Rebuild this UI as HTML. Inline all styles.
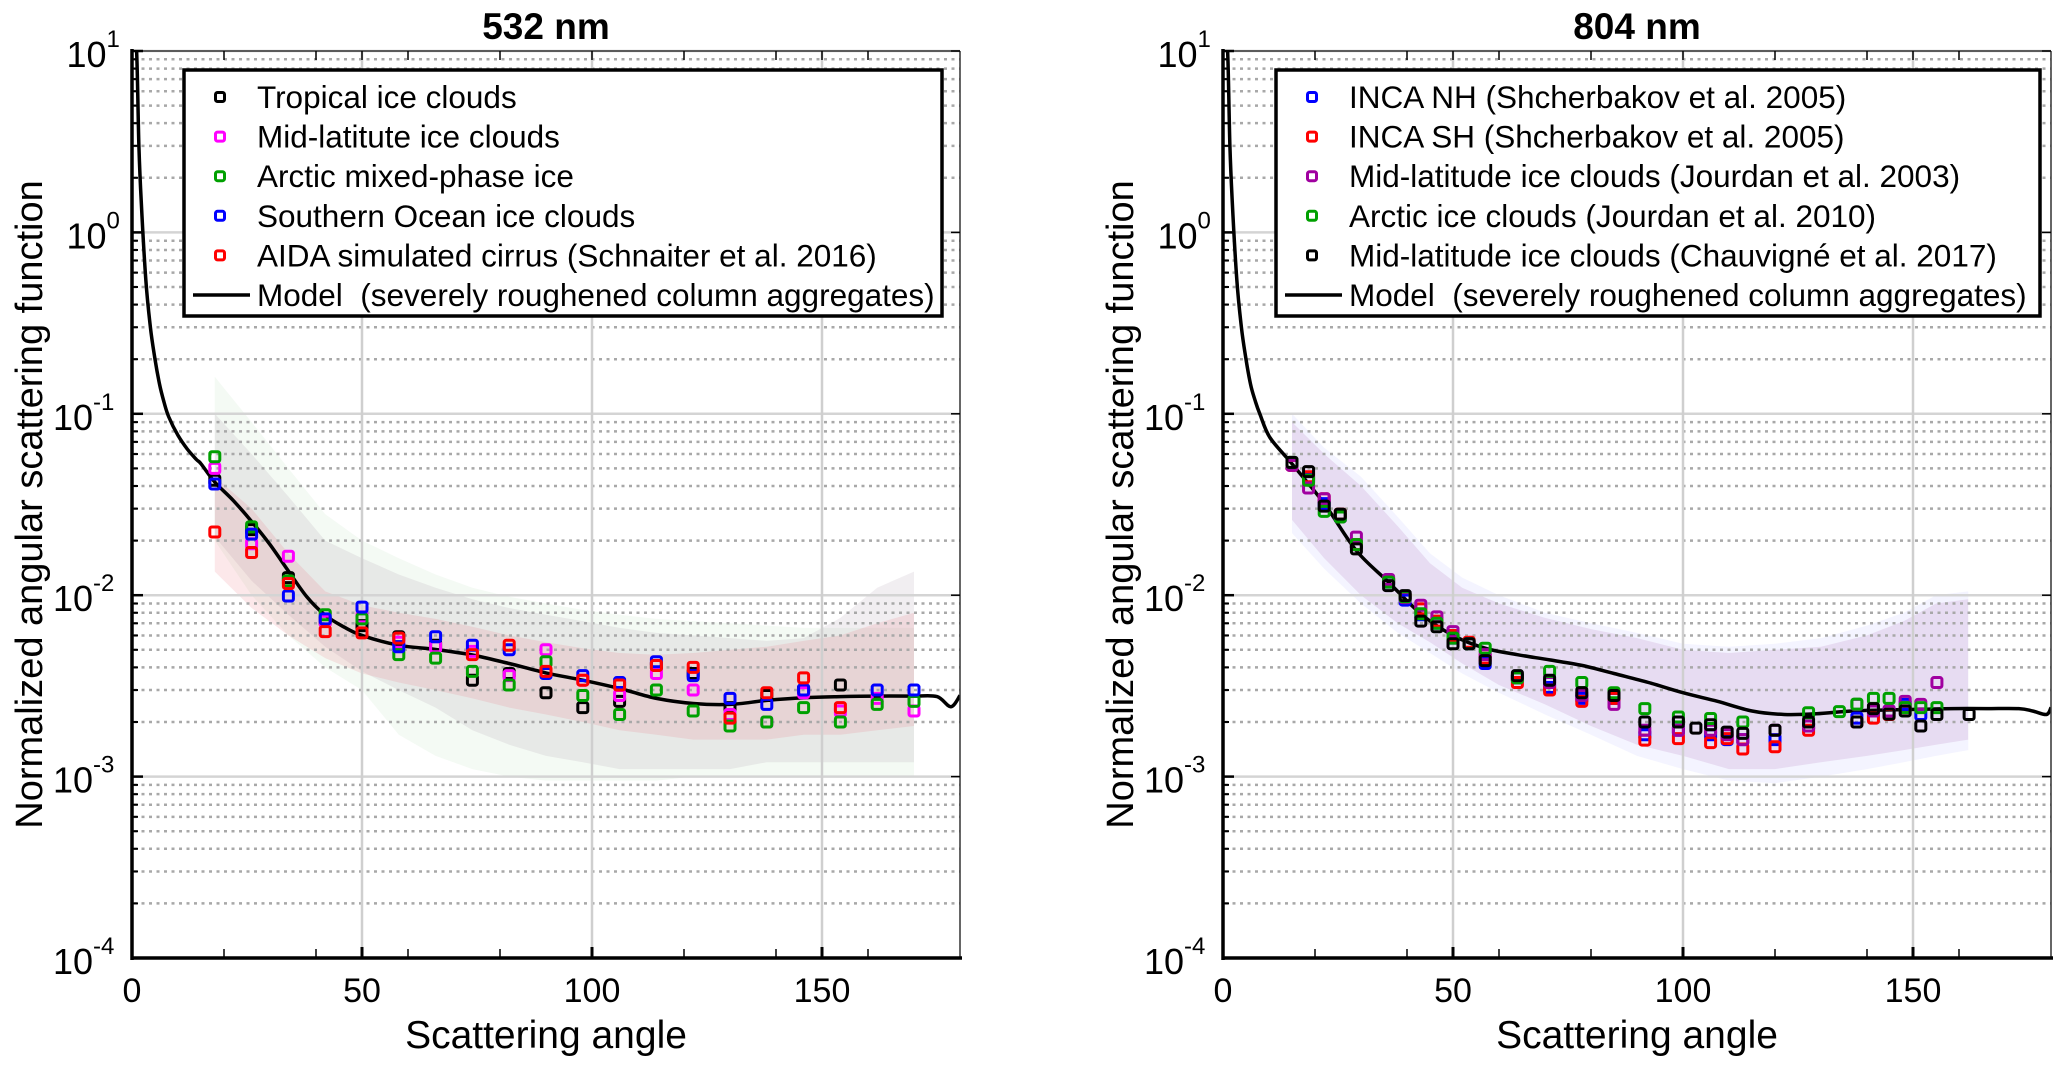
<!DOCTYPE html>
<html><head><meta charset="utf-8"><style>
html,body{margin:0;padding:0;background:#fff;}
svg{display:block;font-family:"Liberation Sans",Arial,sans-serif;}
</style></head><body>
<svg id="chart" width="2066" height="1068" viewBox="0 0 2066 1068" xmlns="http://www.w3.org/2000/svg"></svg>
<script>
// ---------- data ----------
const L_ANGLES = [18,26,34,42,50,58,66,74,82,90,98,106,114,122,130,138,146,154,162,170];
const L_TROPICAL = [0.043,0.023,0.0125,0.0072,0.0068,0.0059,0.0053,0.0034,0.0037,0.0029,0.0024,0.0026,0.0041,0.0037,0.0024,0.0028,0.003,0.0032,null,null];
const L_MIDLAT = [0.050,0.0192,0.0164,0.0072,0.0076,0.0055,0.0052,0.0049,0.0036,0.0050,0.0034,0.0028,0.0037,0.0030,0.0022,0.0020,0.0029,0.0023,0.0027,0.0023];
const L_ARCTIC = [0.058,0.0238,0.012,0.0078,0.0074,0.0047,0.0045,0.0038,0.0032,0.0043,0.0028,0.0022,0.0030,0.0023,0.0019,0.0020,0.0024,0.0020,0.0025,0.0026];
const L_SOUTHERN = [0.041,0.0217,0.0099,0.0074,0.0086,0.0052,0.0059,0.0053,0.0050,0.0037,0.0036,0.0033,0.0043,0.0036,0.0027,0.0025,0.0030,null,0.0030,0.0030];
const L_AIDA = [0.0223,0.0172,0.0116,0.0063,0.0062,0.0058,null,0.0047,0.0053,0.0038,0.0034,0.0032,0.0041,0.0040,0.0021,0.0029,0.0035,0.0024,null,null];

const L_BAND_ANG = [18,26,34,42,50,58,66,74,82,90,98,106,114,122,130,138,146,154,162,170];
const L_GREY_HI = [0.10,0.06,0.035,0.02,0.016,0.013,0.011,0.0095,0.0085,0.0078,0.0072,0.0066,0.0062,0.006,0.0058,0.0056,0.0058,0.0075,0.011,0.0135];
const L_GREY_LO = [0.021,0.012,0.0078,0.0052,0.0038,0.003,0.0024,0.0018,0.0015,0.0013,0.0012,0.0011,0.0011,0.0011,0.0011,0.0012,0.0012,0.0012,0.0012,0.0012];
const L_RED_HI = [0.045,0.03,0.017,0.0105,0.0088,0.008,0.0074,0.0067,0.006,0.0055,0.0051,0.0048,0.0047,0.0048,0.005,0.0052,0.0056,0.006,0.007,0.008];
const L_RED_LO = [0.0135,0.0085,0.006,0.0045,0.0037,0.0033,0.003,0.0027,0.0024,0.0022,0.002,0.0018,0.0017,0.0016,0.0016,0.0016,0.0017,0.0017,0.0018,0.0019];
const L_GREEN_HI = [0.16,0.09,0.05,0.028,0.02,0.016,0.013,0.011,0.0098,0.009,0.0083,0.0078,0.0074,0.0072,0.007,0.0068,0.0066,0.0066,0.0066,0.0066];
const L_GREEN_LO = [0.02,0.01,0.006,0.004,0.003,0.0017,0.0013,0.0011,0.001,0.00095,0.00095,0.00095,0.00095,0.001,0.001,0.001,0.001,0.001,0.001,0.001];

const L_MODEL_ANG = [0.3,1,1.5,2,3,4,5,6,7,8,10,12,14,15,18,22,26,30,34,38,42,46,50,58,66,74,82,90,98,106,114,122,130,138,146,154,162,170,175,178,180];
const L_MODEL_VAL = [12,10,3,1.5,0.55,0.3,0.2,0.145,0.115,0.096,0.076,0.064,0.056,0.053,0.042,0.0333,0.0255,0.019,0.0136,0.0098,0.00776,0.0067,0.006,0.0053,0.00502,0.00468,0.0042,0.00373,0.0034,0.00306,0.0027,0.00253,0.0025,0.00263,0.00272,0.00276,0.00278,0.00278,0.00276,0.00243,0.0028];

const R_ANGLES = [15,18.6,22,25.5,29,36,39.6,43,46.5,50,53.5,57,64,71,78,85,91.7,99,102.8,106,109.6,113,120,127.3,134,137.8,141.4,144.8,148.3,151.7,155.2,162.2];
const R_INCA_NH = [0.053,0.044,0.032,0.027,0.019,0.0118,0.0094,0.0078,0.007,0.0058,0.0054,0.0042,0.0035,0.0031,0.0027,0.0027,0.0017,0.0018,null,0.0017,0.0016,0.0016,0.0016,0.0019,null,0.0021,0.0023,0.0023,0.0025,0.0022,null,null];
const R_INCA_SH = [0.052,0.045,0.034,0.028,0.019,0.012,0.0098,0.0084,0.0072,0.0060,0.0055,0.0045,0.0033,0.0030,0.0026,0.0027,0.00159,0.00162,null,0.00154,0.00162,0.00142,0.00146,0.0018,null,0.0020,0.0021,0.0022,0.0024,null,null,null];
const R_MIDLAT = [0.052,0.039,0.034,0.027,0.0209,0.0122,0.0097,0.0088,0.0076,0.0063,0.0054,0.0047,0.0035,0.0033,0.0028,0.0025,0.0018,0.0018,null,0.0018,0.0017,0.0016,0.0018,0.0019,null,0.0025,0.0023,0.0023,0.0026,0.0025,0.0033,null];
const R_ARCTIC = [0.054,0.043,0.029,0.027,0.019,0.0118,0.0098,0.0079,0.0070,0.0058,0.0054,0.0051,0.0035,0.0038,0.0033,0.0029,0.00237,0.00213,null,0.00209,null,0.0020,null,0.00225,0.00228,0.00251,0.0027,0.0027,0.0024,0.0024,0.0024,null];
const R_CHAUV = [0.054,0.048,0.031,0.028,0.018,0.0113,0.00995,0.0072,0.0067,0.0054,0.0054,0.00436,0.0036,0.0034,0.0029,0.0028,0.002,0.002,0.00185,0.00193,0.00176,0.00173,0.0018,0.002,null,0.002,0.00237,0.00221,0.0023,0.0019,0.0022,0.0022];

const R_BAND_ANG = [15,22,30,38,45,52,60,70,80,90,100,110,120,130,140,148,155,162];
const R_PURPLE_HI = [0.09,0.06,0.04,0.024,0.015,0.011,0.009,0.0075,0.0065,0.0058,0.005,0.0048,0.005,0.0052,0.006,0.0072,0.009,0.0095];
const R_PURPLE_LO = [0.026,0.016,0.01,0.007,0.0055,0.0042,0.0032,0.0025,0.0019,0.0015,0.0013,0.0011,0.0011,0.0012,0.0013,0.0014,0.0015,0.0016];
const R_BLUE_HI = [0.1,0.065,0.045,0.027,0.017,0.0125,0.01,0.008,0.007,0.0062,0.0054,0.0052,0.0054,0.0058,0.0068,0.008,0.01,0.0105];
const R_BLUE_LO = [0.022,0.014,0.009,0.0062,0.0048,0.0037,0.0029,0.0022,0.0017,0.0013,0.0011,0.00095,0.00092,0.001,0.0011,0.0012,0.0013,0.0014];

const R_MODEL_ANG = [0.3,1,1.5,2,3,4,5,6,7,8,10.2,15,22,29,36,43,50,57,64,71,78,85,92.5,100,107.5,115,122,129,136.7,144,151.5,158.7,166,173,176,179,180];
const R_MODEL_VAL = [12,10,3,1.5,0.55,0.3,0.2,0.145,0.118,0.1,0.074,0.053,0.032,0.0176,0.0118,0.0079,0.006,0.0051,0.0047,0.0044,0.0041,0.0037,0.0033,0.0029,0.0026,0.0023,0.0022,0.00222,0.0023,0.00233,0.00235,0.00237,0.00237,0.00237,0.0023,0.0022,0.0024];

const X_TICKS = [0,50,100,150];
const X_MINOR = [20,40,60,80,120,140,160];
const Y_EXPS = [1,0,-1,-2,-3,-4];

// ---------- drawing ----------
const NS = "http://www.w3.org/2000/svg";
const svg = document.getElementById('chart');
function mk(tag, attrs, parent){
  const e = document.createElementNS(NS, tag);
  for (const k in attrs) e.setAttribute(k, attrs[k]);
  (parent||svg).appendChild(e);
  return e;
}
const TOP = 51, BOT = 958, DEC = (BOT-TOP)/5, PXDEG = 4.6;
function yScale(v){ return TOP + (1 - Math.log10(v))*DEC; }
function smoothPath(pts){
  let d = 'M'+pts[0][0].toFixed(1)+','+pts[0][1].toFixed(1);
  for (let i=0;i<pts.length-1;i++){
    const p0=pts[Math.max(0,i-1)], p1=pts[i], p2=pts[i+1], p3=pts[Math.min(pts.length-1,i+2)];
    const c1x=p1[0]+(p2[0]-p0[0])/6, c1y=p1[1]+(p2[1]-p0[1])/6;
    const c2x=p2[0]-(p3[0]-p1[0])/6, c2y=p2[1]-(p3[1]-p1[1])/6;
    d += 'C'+c1x.toFixed(1)+','+c1y.toFixed(1)+' '+c2x.toFixed(1)+','+c2y.toFixed(1)+' '+p2[0].toFixed(1)+','+p2[1].toFixed(1);
  }
  return d;
}

function drawPanel(p){
  const X0 = p.x0, X1 = X0 + 180*PXDEG;
  const xScale = a => X0 + a*PXDEG;
  const g = mk('g', {});
  
  
  const clipId = p.name + '-clip';
  const cp = mk('clipPath', {id: clipId}, g);
  mk('rect', {x: X0, y: TOP, width: X1-X0, height: BOT-TOP}, cp);

  const bandG = mk('g', {'clip-path': 'url(#'+clipId+')'}, g);
  p.bands.forEach(b => {
    let d = '';
    b.ang.forEach((a,i)=>{ d += (i?'L':'M') + xScale(a).toFixed(1)+','+yScale(b.hi[i]).toFixed(1); });
    for (let i=b.ang.length-1;i>=0;i--) d += 'L' + xScale(b.ang[i]).toFixed(1)+','+yScale(b.lo[i]).toFixed(1);
    const el = mk('path', {d: d+'Z', fill: b.color, stroke: 'none'}, bandG);
    
    
  });

  const grid = mk('g', {}, g);
  
  
  for (let e=-4; e<1; e++){
    for (let m=2; m<=9; m++){
      const y = yScale(m*Math.pow(10,e));
      mk('line', {x1:X0+2, x2:X1, y1:y, y2:y, stroke:'#a8a8a8', 'stroke-width':2.5, 'stroke-dasharray':'3,4.5'}, grid);
    }
  }
  Y_EXPS.forEach(e => {
    const y = yScale(Math.pow(10,e));
    mk('line', {x1:X0, x2:X1, y1:y, y2:y, stroke:'#d4d4d4', 'stroke-width':2.5}, grid);
  });
  X_TICKS.forEach(a => { if (a>0){ const x=xScale(a); mk('line',{x1:x,x2:x,y1:TOP,y2:BOT,stroke:'#cfcfcf','stroke-width':2.5},grid);} });

  const pts = p.modelAng.map((a,i)=>[xScale(a), yScale(p.modelVal[i])]);
  const mc = mk('path', {d:smoothPath(pts), fill:'none', stroke:'#000', 'stroke-width':3.5, 'stroke-linejoin':'round', 'clip-path':'url(#'+clipId+')'}, g);
  
  

  p.series.forEach(s => {
    const sg = mk('g', {}, g);
    
    
    s.vals.forEach((v,i) => {
      if (v == null) return;
      const r = mk('rect', {x: xScale(p.angles[i])-5, y: yScale(v)-5, width:10, height:10, rx:2, fill:'none', stroke:s.color, 'stroke-width':3}, sg);
      
      
    });
  });

  const ax = mk('g', {}, g);
  
  
  mk('line', {x1:X0, x2:X1, y1:TOP, y2:TOP, stroke:'#333', 'stroke-width':1.5}, ax);
  mk('line', {x1:X1, x2:X1, y1:TOP, y2:BOT, stroke:'#333', 'stroke-width':1.5}, ax);
  mk('line', {x1:X0, x2:X1+2, y1:BOT, y2:BOT, stroke:'#000', 'stroke-width':3.5}, ax);
  mk('line', {x1:X0, x2:X0, y1:TOP-2, y2:BOT+2, stroke:'#000', 'stroke-width':3.5}, ax);
  for (let e=-4; e<1; e++){
    for (let m=2; m<=9; m++){
      const y = yScale(m*Math.pow(10,e));
      mk('line', {x1:X0, x2:X0+6, y1:y, y2:y, stroke:'#000', 'stroke-width':2}, ax);
    }
  }
  Y_EXPS.forEach(e => {
    const y = yScale(Math.pow(10,e));
    mk('line', {x1:X0, x2:X0+11, y1:y, y2:y, stroke:'#000', 'stroke-width':2.5}, ax);
    mk('line', {x1:X1-9, x2:X1, y1:y, y2:y, stroke:'#000', 'stroke-width':1.5}, ax);
    const t = mk('text', {x:X0-12-40-String(e).length*13.5, y:y+16, 'font-size':36, fill:'#000'}, ax);
    
    
    const b = document.createElementNS(NS,'tspan'); b.textContent='10'; t.appendChild(b);
    const s = document.createElementNS(NS,'tspan'); s.setAttribute('font-size','24'); s.setAttribute('dy','-20'); s.textContent=String(e); t.appendChild(s);
  });
  X_TICKS.forEach(a => {
    const x = xScale(a);
    mk('line', {x1:x, x2:x, y1:BOT, y2:BOT-11, stroke:'#000', 'stroke-width':3}, ax);
    mk('line', {x1:x, x2:x, y1:TOP, y2:TOP+9, stroke:'#000', 'stroke-width':1.5}, ax);
    const t = mk('text', {x:x, y:1002, 'font-size':34, 'text-anchor':'middle', fill:'#000'}, ax);
    t.textContent = String(a);
    
    
  });
  X_MINOR.forEach(a => {
    const x = xScale(a);
    mk('line', {x1:x, x2:x, y1:BOT, y2:BOT-9, stroke:'#000', 'stroke-width':1.5}, ax);
    mk('line', {x1:x, x2:x, y1:TOP, y2:TOP+9, stroke:'#000', 'stroke-width':1.5}, ax);
  });

  const cx = (X0+X1)/2;
  const tt = mk('text', {x:cx, y:39, 'font-size':37, 'font-weight':'bold', 'text-anchor':'middle'}, g);
  tt.textContent = p.title;
  
  
  const xl = mk('text', {x:cx, y:1048, 'font-size':39, 'text-anchor':'middle'}, g);
  xl.textContent = 'Scattering angle';
  
  
  const yl = mk('text', {x:0, y:0, 'font-size':38, 'text-anchor':'middle', transform:'translate('+(X0-90)+','+((TOP+BOT)/2)+') rotate(-90)'}, g);
  yl.textContent = 'Normalized angular scattering function';
  
  

  const lg = mk('g', {}, g);
  
  
  mk('rect', {x:p.legX, y:70, width:p.legW, height:246, fill:'#fff', stroke:'#000', 'stroke-width':3.5}, lg);
  p.series.forEach((s,i) => {
    const y = 97 + i*39.6;
    const e = mk('g', {}, lg);
    
    
    mk('rect', {x:p.legX+36-4.5, y:y-4.5, width:9, height:9, rx:2, fill:'none', stroke:s.color, 'stroke-width':3}, e);
    const t = mk('text', {x:p.legX+73, y:y+11, 'font-size':31.5}, e);
    t.textContent = s.label;
  });
  const ym = 97 + 5*39.6;
  const e = mk('g', {}, lg);
  
  
  mk('line', {x1:p.legX+9, x2:p.legX+66, y1:ym, y2:ym, stroke:'#000', 'stroke-width':3.5}, e);
  const t = mk('text', {x:p.legX+73, y:ym+11, 'font-size':31.5}, e);
  t.textContent = 'Model\u00a0 (severely roughened column aggregates)';
}

drawPanel({
  name:'panel-532', title:'532 nm', x0:132, legX:184, legW:758,
  angles:L_ANGLES, modelAng:L_MODEL_ANG, modelVal:L_MODEL_VAL,
  bands:[
    {name:'arctic-band', ang:L_BAND_ANG, hi:L_GREEN_HI, lo:L_GREEN_LO, color:'rgba(60,170,60,0.06)'},
    {name:'spread-band', ang:L_BAND_ANG, hi:L_GREY_HI, lo:L_GREY_LO, color:'rgba(150,120,150,0.13)'},
    {name:'aida-band', ang:L_BAND_ANG, hi:L_RED_HI, lo:L_RED_LO, color:'rgba(230,80,90,0.13)'}
  ],
  series:[
    {name:'tropical-series', label:'Tropical ice clouds', color:'#000', vals:L_TROPICAL},
    {name:'midlat-series', label:'Mid-latitute ice clouds', color:'#ff00ff', vals:L_MIDLAT},
    {name:'arctic-series', label:'Arctic mixed-phase ice', color:'#00a000', vals:L_ARCTIC},
    {name:'southern-ocean-series', label:'Southern Ocean ice clouds', color:'#0000ff', vals:L_SOUTHERN},
    {name:'aida-series', label:'AIDA simulated cirrus (Schnaiter et al. 2016)', color:'#ff0000', vals:L_AIDA}
  ]
});
drawPanel({
  name:'panel-804', title:'804 nm', x0:1223, legX:1276, legW:764,
  angles:R_ANGLES, modelAng:R_MODEL_ANG, modelVal:R_MODEL_VAL,
  bands:[
    {name:'blue-band', ang:R_BAND_ANG, hi:R_BLUE_HI, lo:R_BLUE_LO, color:'rgba(120,120,255,0.08)'},
    {name:'purple-band', ang:R_BAND_ANG, hi:R_PURPLE_HI, lo:R_PURPLE_LO, color:'rgba(160,90,170,0.15)'}
  ],
  series:[
    {name:'inca-nh-series', label:'INCA NH (Shcherbakov et al. 2005)', color:'#0000ff', vals:R_INCA_NH},
    {name:'inca-sh-series', label:'INCA SH (Shcherbakov et al. 2005)', color:'#ff0000', vals:R_INCA_SH},
    {name:'midlat-jourdan-series', label:'Mid-latitude ice clouds (Jourdan et al. 2003)', color:'#a000a0', vals:R_MIDLAT},
    {name:'arctic-jourdan-series', label:'Arctic ice clouds (Jourdan et al. 2010)', color:'#00a000', vals:R_ARCTIC},
    {name:'chauvigne-series', label:'Mid-latitude ice clouds (Chauvigné et al. 2017)', color:'#000', vals:R_CHAUV}
  ]
});
</script>
</body></html>
